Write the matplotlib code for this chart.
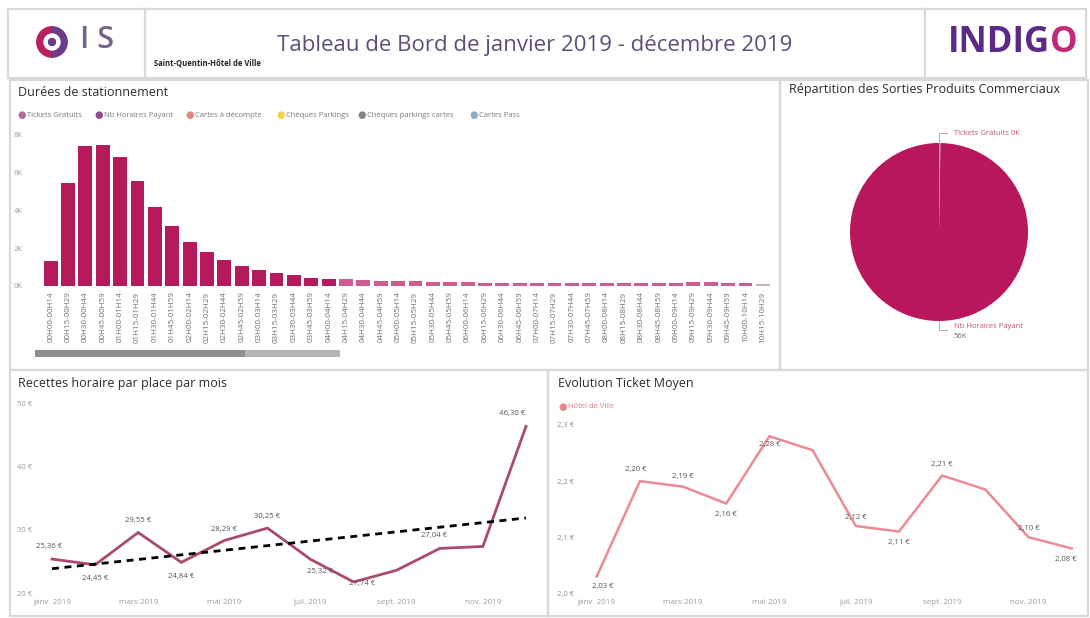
import numpy as np
import matplotlib
matplotlib.use("Agg")
import matplotlib.pyplot as plt
from matplotlib.patches import Rectangle, Circle, Wedge

plt.rcParams['font.family'] = ['Open Sans', 'DejaVu Sans']

# ---------------- data ----------------
duree_labels = [
    "00H00-00H14", "00H15-00H29", "00H30-00H44", "00H45-00H59",
    "01H00-01H14", "01H15-01H29", "01H30-01H44", "01H45-01H59",
    "02H00-02H14", "02H15-02H29", "02H30-02H44", "02H45-02H59",
    "03H00-03H14", "03H15-03H29", "03H30-03H44", "03H45-03H59",
    "04H00-04H14", "04H15-04H29", "04H30-04H44", "04H45-04H59",
    "05H00-05H14", "05H15-05H29", "05H30-05H44", "05H45-05H59",
    "06H00-06H14", "06H15-06H29", "06H30-06H44", "06H45-06H59",
    "07H00-07H14", "07H15-07H29", "07H30-07H44", "07H45-07H59",
    "08H00-08H14", "08H15-08H29", "08H30-08H44", "08H45-08H59",
    "09H00-09H14", "09H15-09H29", "09H30-09H44", "09H45-09H59",
    "10H00-10H14", "10H15-10H29",
]
duree_values = [
    1310, 5460, 7410, 7450, 6810, 5560, 4170, 3170, 2320, 1790, 1360,
    1080, 830, 690, 570, 450, 380, 360, 300, 280, 270, 240, 200, 200,
    200, 170, 150, 150, 170, 150, 160, 160, 160, 180, 180, 170, 170,
    200, 200, 160, 140, 90,
]
legend_names = ["Tickets Gratuits", "Nb Horaires Payant", "Cartes à décompte",
                "Chèques Parkings", "Chèques parkings cartes", "Cartes Pass"]

pie_names = ["Tickets Gratuits", "Nb Horaires Payant"]
pie_values = [150, 56000]

months = ["janv. 2019", "févr. 2019", "mars 2019", "avr. 2019", "mai 2019", "juin 2019",
          "juil. 2019", "août 2019", "sept. 2019", "oct. 2019", "nov. 2019", "déc. 2019"]
recettes = [25.36, 24.45, 29.55, 24.84, 28.29, 30.25, 25.32, 21.74, 23.60, 27.04, 27.35, 46.30]
recettes_labelled = [0, 1, 2, 3, 4, 5, 6, 7, 9, 11]
ticket_moyen = [2.03, 2.20, 2.19, 2.16, 2.28, 2.255, 2.12, 2.11, 2.21, 2.185, 2.10, 2.08]
ticket_labelled = [0, 1, 2, 3, 4, 6, 7, 8, 10, 11]

# ---------------- layout helpers ----------------
W, H = 1090, 618
fig = plt.figure(figsize=(W / 100, H / 100), dpi=100)
fig.patch.set_facecolor("white")


def box(x0, y0, x1, y1):
    return [x0 / W, 1 - y1 / H, (x1 - x0) / W, (y1 - y0) / H]


def ftext(x, y, s, **kw):
    return fig.text(x / W, 1 - y / H, s, **kw)


def frame(x0, y0, x1, y1, ec="#d9d9d9", lw=1.6):
    fig.add_artist(Rectangle((x0 / W, 1 - y1 / H), (x1 - x0) / W, (y1 - y0) / H,
                             transform=fig.transFigure, fill=False, ec=ec, lw=lw))


CRIMSON = "#B51A5C"
LIGHTPINK = "#CE5C91"

# ---------------- header ----------------
frame(8, 9, 1086, 78)
for xv in (145, 925):
    fig.add_artist(plt.Line2D([xv / W, xv / W], [1 - 9 / H, 1 - 78 / H],
                              transform=fig.transFigure, color="#d9d9d9", lw=1.6))

# OIS logo
ax_logo = fig.add_axes(box(36, 26, 68, 58))
ax_logo.set_xlim(-1, 1); ax_logo.set_ylim(-1, 1); ax_logo.set_aspect("equal"); ax_logo.axis("off")
ax_logo.add_patch(Wedge((0, 0), 0.95, 90, 270, width=0.45, color="#B8205E"))
ax_logo.add_patch(Wedge((0, 0), 0.95, -90, 90, width=0.45, color="#6E3A8A"))
ax_logo.add_patch(Circle((0, 0), 0.5, color="white"))
ax_logo.add_patch(Circle((0, 0), 0.22, color="#6E3A8A"))
ftext(80, 40, "I S", fontsize=22, color="#75658A", va="center", ha="left", fontweight="semibold")

ftext(535, 46, "Tableau de Bord de janvier 2019 - décembre 2019", fontsize=16,
      color="#5E4F78", ha="center", va="center")
ftext(154, 63, "Saint-Quentin-Hôtel de Ville", fontsize=5.5, color="#222222",
      ha="left", va="center", fontweight="bold")

ftext(1050, 43, "INDIG", fontsize=25, color="#5B2A86", ha="right", va="center", fontweight="bold")
ftext(1050, 43, "O", fontsize=25, color="#C02A7A", ha="left", va="center", fontweight="bold")

# ---------------- panels ----------------
frame(10, 80, 780, 370)
frame(780, 80, 1088, 370)
frame(10, 370, 548, 616)
frame(548, 370, 1088, 616)

# ---------------- bar chart ----------------
ftext(18, 93, "Durées de stationnement", fontsize=9, color="#2b2b2b", ha="left", va="center")
leg_colors = ["#B46A9E", "#8E4A8C", "#E8867E", "#F5D24A", "#858585", "#8DAFC4"]
leg_x = [22, 99, 190, 281, 362, 474]
for name, c, lx in zip(legend_names, leg_colors, leg_x):
    ftext(lx, 115.5, "●", fontsize=7, color=c, ha="center", va="center")
    ftext(lx + 5, 115, name, fontsize=5.5, color="#7a7a7a", ha="left", va="center")

n = len(duree_values)
ax_bar = fig.add_axes(box(42, 135, 771.6, 286))
xpos = np.arange(n)
bar_colors = [CRIMSON if v >= 380 else LIGHTPINK for v in duree_values]
bar_colors[-1] = "#C9B3C0"
ax_bar.bar(xpos, duree_values, width=0.8, color=bar_colors, edgecolor="none")
ax_bar.set_xlim(-0.5, n - 0.5)
ax_bar.set_ylim(0, 8000)
ax_bar.set_yticks([0, 2000, 4000, 6000, 8000])
ax_bar.set_yticklabels(["0K", "2K", "4K", "6K", "8K"], fontsize=5.5, color="#9a9a9a")
ax_bar.set_xticks(xpos)
ax_bar.set_xticklabels(duree_labels, rotation=90, fontsize=5.8, color="#6f6f6f")
ax_bar.tick_params(length=0, pad=4)
ax_bar.tick_params(axis="y", pad=14)
for s in ax_bar.spines.values():
    s.set_visible(False)
ax_bar.patch.set_alpha(0)
# horizontal scroll bar
fig.add_artist(Rectangle((35 / W, 1 - 357 / H), (340 - 35) / W, 7 / H,
                         transform=fig.transFigure, color="#b5b5b5", lw=0))
fig.add_artist(Rectangle((35 / W, 1 - 357 / H), (245 - 35) / W, 7 / H,
                         transform=fig.transFigure, color="#8f8f8f", lw=0))

# ---------------- pie ----------------
ftext(789, 90, "Répartition des Sorties Produits Commerciaux", fontsize=9, color="#2b2b2b",
      ha="left", va="center")
ax_pie = fig.add_axes(box(850, 143, 1028, 321))
ax_pie.pie(pie_values, colors=["#8DAFC4", "#B8185B"], startangle=90, counterclock=False,
           wedgeprops=dict(linewidth=0))
ax_pie.set_xlim(-1, 1)
ax_pie.set_ylim(-1, 1)
ax_pie.set_aspect("equal")
pie_txt = [f"{nm} {round(v / 1000):.0f}K" for nm, v in zip(pie_names, pie_values)]
fig.add_artist(plt.Line2D([939 / W, 939 / W, 947 / W], [1 - 143 / H, 1 - 133 / H, 1 - 133 / H],
                          transform=fig.transFigure, color="#b0b0b0", lw=0.8))
ftext(954, 133, pie_txt[0], fontsize=5.5, color="#C0567F", ha="left", va="center")
fig.add_artist(plt.Line2D([939 / W, 939 / W, 947 / W], [1 - 321 / H, 1 - 330 / H, 1 - 330 / H],
                          transform=fig.transFigure, color="#b0b0b0", lw=0.8))
ftext(954, 327, pie_names[1], fontsize=5.5, color="#C0567F", ha="left", va="center")
ftext(954, 337, f"{round(pie_values[1] / 1000):.0f}K", fontsize=5.5, color="#666666", ha="left", va="center")


def euro(v):
    return f"{v:.2f}".replace(".", ",") + " €"


# ---------------- line chart 1 ----------------
ftext(18, 383, "Recettes horaire par place par mois", fontsize=9, color="#2b2b2b", ha="left", va="center")
ax1 = fig.add_axes(box(43.4, 403, 534.6, 593))
xm = np.arange(len(months))
ax1.plot(xm, recettes, color="#A84A72", lw=2.0, solid_joinstyle="miter")
coef = np.polyfit(xm, recettes, 1)
ax1.plot(xm, np.polyval(coef, xm), color="black", lw=2.0, ls=(0, (2.5, 2)))
ax1.set_xlim(-0.2, 11.2)
ax1.set_ylim(20, 50)
ax1.set_yticks([20, 30, 40, 50])
ax1.set_yticklabels(["20 €", "30 €", "40 €", "50 €"], fontsize=5.5, color="#9a9a9a")
ax1.set_xticks(xm[::2])
ax1.set_xticklabels(months[::2], fontsize=5.8, color="#9a9a9a")
ax1.tick_params(length=0, pad=4)
ax1.tick_params(axis="y", pad=8)
for s in ax1.spines.values():
    s.set_visible(False)
ax1.patch.set_alpha(0)
rec_off = {0: (-2, 9), 1: (0, -10), 2: (0, 9), 3: (0, -10), 4: (0, 8), 5: (0, 8),
           6: (7, -9), 7: (6, -1), 9: (-4, 9), 11: (-10, 9)}
for i in recettes_labelled:
    dx, dy = rec_off[i]
    ax1.annotate(euro(recettes[i]), (xm[i], recettes[i]), xytext=(dx, dy), textcoords="offset points",
                 fontsize=5.6, color="#555555", ha="center", va="center")

# ---------------- line chart 2 ----------------
ftext(558, 383, "Evolution Ticket Moyen", fontsize=9, color="#2b2b2b", ha="left", va="center")
ftext(563, 407.5, "●", fontsize=7, color="#E8868F", ha="center", va="center")
ftext(568, 407, "Hôtel de Ville", fontsize=5.5, color="#E07C88", ha="left", va="center")
ax2 = fig.add_axes(box(588.1, 425, 1080.3, 593.3))
ax2.plot(xm, ticket_moyen, color="#EC8A95", lw=1.8)
ax2.set_xlim(-0.2, 11.2)
ax2.set_ylim(2.0, 2.3)
ax2.set_yticks([2.0, 2.1, 2.2, 2.3])
ax2.set_yticklabels(["2,0 €", "2,1 €", "2,2 €", "2,3 €"], fontsize=5.5, color="#8a8a8a")
ax2.set_xticks(xm[::2])
ax2.set_xticklabels(months[::2], fontsize=5.8, color="#9a9a9a")
ax2.tick_params(length=0, pad=4)
ax2.tick_params(axis="y", pad=10)
for s in ax2.spines.values():
    s.set_visible(False)
ax2.patch.set_alpha(0)
tk_off = {0: (4, -7), 1: (-3, 8), 2: (0, 7), 3: (0, -8), 4: (0, -6), 6: (0, 6),
          7: (0, -8), 8: (0, 8), 10: (0, 6), 11: (-4, -8)}
for i in ticket_labelled:
    dx, dy = tk_off[i]
    ax2.annotate(euro(ticket_moyen[i]), (xm[i], ticket_moyen[i]), xytext=(dx, dy), textcoords="offset points",
                 fontsize=5.6, color="#555555", ha="center", va="center")

fig.savefig("out.png", dpi=100, facecolor="white")
